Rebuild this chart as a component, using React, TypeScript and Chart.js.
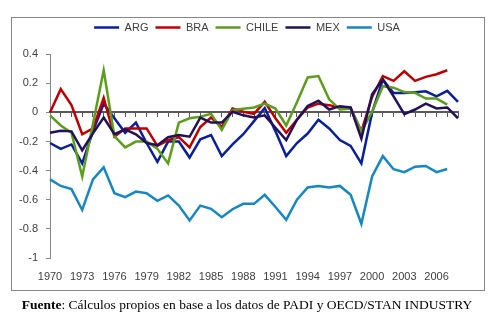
import React, { useEffect, useRef } from "react";
import { Chart, registerables } from "chart.js";

Chart.register(...registerables);

const years = [
  "1970", "1971", "1972", "1973", "1974", "1975", "1976", "1977", "1978", "1979",
  "1980", "1981", "1982", "1983", "1984", "1985", "1986", "1987", "1988", "1989",
  "1990", "1991", "1992", "1993", "1994", "1995", "1996", "1997", "1998", "1999",
  "2000", "2001", "2002", "2003", "2004", "2005", "2006", "2007", "2008",
];

const ARG = [
  -0.21, -0.25, -0.22, -0.35, -0.13, 0.06, -0.04, -0.14, -0.07, -0.21,
  -0.34, -0.2, -0.2, -0.31, -0.185, -0.155, -0.3, -0.22, -0.15, -0.06,
  0.03, -0.13, -0.3, -0.21, -0.145, -0.05, -0.11, -0.19, -0.23, -0.35,
  0.0, 0.226, 0.134, 0.134, 0.139, 0.145, 0.11, 0.148, 0.073,
];

const BRA = [
  0, 0.16, 0.05, -0.15, -0.11, 0.1, -0.167, -0.11, -0.11, -0.11,
  -0.23, -0.19, -0.17, -0.24, -0.1, -0.035, -0.1, 0.027, 0.005, -0.01,
  0.073, -0.04, -0.14, -0.05, 0.034, 0.06, 0.05, 0.034, 0.03, -0.13,
  0.107, 0.25, 0.217, 0.283, 0.217, 0.244, 0.262, 0.29, null,
];

const CHILE = [
  -0.02, -0.09, -0.14, -0.44, -0.08, 0.29, -0.163, -0.24, -0.2, -0.2,
  -0.25, -0.35, -0.07, -0.04, -0.03, -0.01, -0.12, 0.016, 0.025, 0.034,
  0.06, 0.027, -0.09, 0.07, 0.24, 0.25, 0.09, 0.02, 0.027, -0.13,
  0.004, 0.18, 0.17, 0.14, 0.135, 0.095, 0.095, 0.054, null,
];

const MEX = [
  -0.14, -0.126, -0.13, -0.26, -0.144, -0.035, -0.15, -0.117, -0.15, -0.21,
  -0.225, -0.17, -0.155, -0.167, -0.035, -0.07, -0.07, 0.005, -0.02, -0.035,
  -0.02, -0.105, -0.19, -0.05, 0.045, 0.08, 0.02, 0.043, 0.034, -0.18,
  0.125, 0.226, 0.11, -0.012, 0.02, 0.061, 0.027, 0.034, -0.04,
];

const USA = [
  -0.46, -0.505, -0.527, -0.67, -0.46, -0.377, -0.555, -0.582, -0.544, -0.555,
  -0.607, -0.57, -0.64, -0.742, -0.64, -0.662, -0.72, -0.665, -0.628, -0.628,
  -0.566, -0.65, -0.738, -0.6, -0.516, -0.505, -0.516, -0.505, -0.566, -0.765,
  -0.44, -0.3, -0.39, -0.41, -0.373, -0.368, -0.41, -0.389, null,
];

const SERIES_NAMES = ["ARG", "BRA", "CHILE", "MEX", "USA"];
const SERIES_COLORS = ["#0a1f9c", "#c00000", "#5c9e1c", "#22105a", "#1488c4"];
const SERIES_DRAW_ORDER = [4, 3, 2, 1, 5];

const Y_MIN = -1;
const Y_MAX = 0.4;
const Y_STEP = 0.2;

const FONT = "'Liberation Sans', Arial, sans-serif";

export default function App() {
  const canvasRef = useRef<HTMLCanvasElement>(null);

  useEffect(() => {
    const values = [ARG, BRA, CHILE, MEX, USA];
    const chart = new Chart(canvasRef.current as HTMLCanvasElement, {
      type: "line",
      data: {
        labels: years,
        datasets: values.map((d, i) => ({
          label: SERIES_NAMES[i],
          data: d,
          borderColor: SERIES_COLORS[i],
          backgroundColor: SERIES_COLORS[i],
          borderWidth: 2.5,
          pointRadius: 0,
          pointHoverRadius: 0,
          pointStyle: "line",
          tension: 0,
          fill: false,
          order: SERIES_DRAW_ORDER[i],
          xAxisID: "x",
        })),
      },
      options: {
        animation: false,
        responsive: false,
        maintainAspectRatio: false,
        layout: { padding: { top: 15, right: 0, left: 0, bottom: 0 } },
        plugins: {
          tooltip: { enabled: false },
          title: {
            display: true,
            text: "",
            weight: 500,
            font: { size: 1, lineHeight: 1.2 },
            padding: { top: 0, bottom: 10 },
          },
          legend: {
            position: "top",
            labels: {
              usePointStyle: true,
              pointStyleWidth: 25,
              padding: 7,
              color: "#404040",
              font: { family: FONT, size: 11 },
              sort: (a: any, b: any) => a.datasetIndex - b.datasetIndex,
            },
          },
        },
        scales: {
          x: {
            type: "category",
            position: "bottom",
            grid: { display: false, drawTicks: false },
            border: { display: false },
            ticks: {
              autoSkip: false,
              maxRotation: 0,
              minRotation: 0,
              padding: 12,
              color: "#404040",
              font: { family: FONT, size: 11 },
              callback: (_v: any, i: number) => (i % 3 === 0 ? years[i] : ""),
            },
            afterFit: (s: any) => {
              s.height = 42;
              s.paddingRight = 36;
            },
          },
          x0: {
            type: "category",
            position: { y: 0 },
            grid: {
              drawOnChartArea: false,
              drawTicks: true,
              tickLength: 4,
              color: "#595959",
              lineWidth: 1,
            },
            border: { display: true, color: "#595959", width: 2 },
            ticks: { display: false, autoSkip: false },
          },
          y: {
            type: "linear",
            min: Y_MIN,
            max: Y_MAX,
            ticks: {
              stepSize: Y_STEP,
              padding: 8,
              color: "#404040",
              font: { family: FONT, size: 11 },
              callback: (v: any) => String(Number(Number(v).toFixed(1))),
            },
            grid: {
              drawOnChartArea: false,
              drawTicks: true,
              tickLength: 4,
              color: "#868686",
            },
            border: { color: "#868686", width: 1 },
            afterFit: (s: any) => {
              s.width = 50;
            },
          },
        },
      },
    } as any);
    return () => chart.destroy();
  }, []);

  return (
    <div style={{ position: "fixed", left: 0, top: 0, width: 494, height: 321, background: "#fff" }}>
      <div
        style={{
          position: "absolute",
          left: 11,
          top: 17,
          width: 474,
          height: 274,
          boxSizing: "border-box",
          border: "1px solid #868686",
        }}
      />
      <canvas
        ref={canvasRef}
        width={494}
        height={300}
        style={{ position: "absolute", left: 0, top: 0, width: 494, height: 300 }}
      />
      <div
        style={{
          position: "absolute",
          left: 0,
          top: 297,
          width: 494,
          textAlign: "center",
          fontFamily: "'Liberation Serif', 'DejaVu Serif', serif",
          fontSize: 13.5,
          color: "#000",
          whiteSpace: "nowrap",
        }}
      >
        <b>Fuente</b>: Cálculos propios en base a los datos de PADI y OECD/STAN INDUSTRY
      </div>
    </div>
  );
}
